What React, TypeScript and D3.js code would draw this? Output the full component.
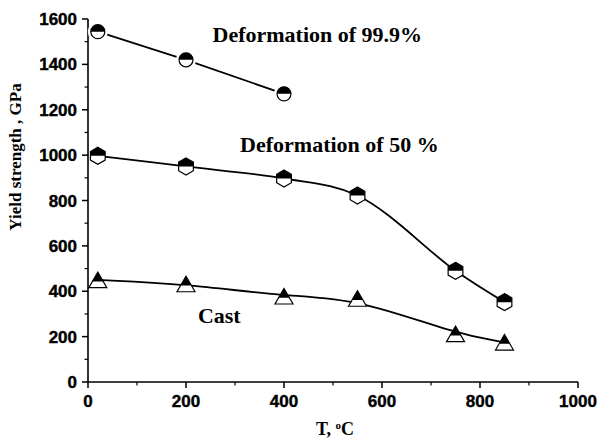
import React from 'react';
import * as d3 from 'd3';

const temps999 = [20, 200, 400];
const ys999 = [1544, 1420, 1270];

const temps50 = [20, 200, 400, 550, 750, 850];
const ys50 = [997, 950, 897, 822, 490, 352];

const tempsCast = [20, 200, 400, 550, 750, 850];
const ysCast = [450, 432, 378, 368, 212, 175];

const xTicks = [0, 200, 400, 600, 800, 1000];
const xMinor = [100, 300, 500, 700, 900];
const yTicks = [0, 200, 400, 600, 800, 1000, 1200, 1400, 1600];
const yMinor = [100, 300, 500, 700, 900, 1100, 1300, 1500];

const W = 597;
const H = 439;
const margin = { left: 88, right: 19, top: 19, bottom: 57 };

const x = d3.scaleLinear().domain([0, 1000]).range([margin.left, W - margin.right]);
const y = d3.scaleLinear().domain([0, 1600]).range([H - margin.bottom, margin.top]);

const tickFont = 'Arial, "Liberation Sans", sans-serif';
const serif = '"Times New Roman", "Liberation Serif", serif';

type Pt = [number, number];
const zip = (xs: number[], ys: number[]): Pt[] => xs.map((v, i) => [v, ys[i]]);

const HalfCircle = ({ cx, cy, r }: { cx: number; cy: number; r: number }) => (
  <g>
    <circle cx={cx} cy={cy} r={r + 3} fill="#fff" />
    <circle cx={cx} cy={cy} r={r} fill="#fff" stroke="#000" strokeWidth={1.2} />
    <path d={`M${cx - r},${cy} A${r},${r} 0 0 1 ${cx + r},${cy} Z`} fill="#000" />
  </g>
);

const HalfHex = ({ cx, cy, r }: { cx: number; cy: number; r: number }) => {
  const pts = d3.range(6).map(i => {
    const a = -Math.PI / 2 + (i * Math.PI) / 3;
    return [cx + r * Math.cos(a), cy + r * Math.sin(a)];
  });
  const w = r * Math.cos(Math.PI / 6);
  const top = `M${cx - w},${cy} L${cx - w},${cy - r / 2} L${cx},${cy - r} L${cx + w},${cy - r / 2} L${cx + w},${cy} Z`;
  return (
    <g>
      <polygon points={pts.map(p => p.join(',')).join(' ')} fill="#fff" stroke="#000" strokeWidth={1.2} />
      <path d={top} fill="#000" />
    </g>
  );
};

const HalfTri = ({ cx, cy, s }: { cx: number; cy: number; s: number }) => {
  const h = s * 0.86;
  const topY = cy - h / 2;
  const botY = cy + h / 2;
  const midY = cy + h * 0.1;
  const frac = (midY - topY) / h;
  return (
    <g>
      <polygon points={`${cx},${topY} ${cx + s / 2},${botY} ${cx - s / 2},${botY}`} fill="#fff" stroke="#000" strokeWidth={1.2} />
      <polygon points={`${cx},${topY} ${cx + (s / 2) * frac},${midY} ${cx - (s / 2) * frac},${midY}`} fill="#000" />
    </g>
  );
};

export default function App() {
  const d999 = zip(temps999, ys999);
  const d50 = zip(temps50, ys50);
  const dCast = zip(tempsCast, ysCast);

  const lineStraight = d3.line<Pt>().x(d => x(d[0])).y(d => y(d[1]));
  const line50 = d3.line<Pt>().x(d => x(d[0])).y(d => y(d[1])).curve(d3.curveCatmullRom.alpha(0.5));
  const lineCast = d3.line<Pt>().x(d => x(d[0])).y(d => y(d[1])).curve(d3.curveBasis);

  const x0 = x(0);
  const y0 = y(0);

  return (
    <svg width={W} height={H} style={{ position: 'absolute', left: 0, top: 0, background: '#fff' }}>
      {/* axes */}
      <line x1={x0} x2={x(1000)} y1={y0} y2={y0} stroke="#000" strokeWidth={1.6} />
      <line x1={x0} x2={x0} y1={y0} y2={y(1600)} stroke="#000" strokeWidth={1.6} />
      {xTicks.map(t => (
        <g key={'xt' + t}>
          <line x1={x(t)} x2={x(t)} y1={y0} y2={y0 + 6} stroke="#000" strokeWidth={1.5} />
          <text x={x(t)} y={y0 + 25} textAnchor="middle" fontFamily={tickFont} fontWeight="bold" fontSize={17} stroke="#000" strokeWidth={0.4}>{t}</text>
        </g>
      ))}
      {xMinor.map(t => (
        <line key={'xm' + t} x1={x(t)} x2={x(t)} y1={y0} y2={y0 + 3.5} stroke="#000" strokeWidth={1.2} />
      ))}
      {yTicks.map(t => (
        <g key={'yt' + t}>
          <line x1={x0 - 6} x2={x0} y1={y(t)} y2={y(t)} stroke="#000" strokeWidth={1.5} />
          <text x={x0 - 11} y={y(t) + 6} textAnchor="end" fontFamily={tickFont} fontWeight="bold" fontSize={17} stroke="#000" strokeWidth={0.4}>{t}</text>
        </g>
      ))}
      {yMinor.map(t => (
        <line key={'ym' + t} x1={x0 - 3.5} x2={x0} y1={y(t)} y2={y(t)} stroke="#000" strokeWidth={1.2} />
      ))}

      {/* axis titles */}
      <text x={335} y={435} textAnchor="middle" fontFamily={serif} fontWeight="bold" fontSize={18}>
        T, <tspan dy={-6} fontSize={11}>o</tspan><tspan dy={6}>C</tspan>
      </text>
      <text transform={`translate(21,157) rotate(-90)`} textAnchor="middle" fontFamily={serif} fontWeight="bold" fontSize={17}>
        Yield strength , GPa
      </text>

      {/* lines */}
      <path d={lineStraight(d999) ?? ''} fill="none" stroke="#000" strokeWidth={1.8} />
      <path d={line50(d50) ?? ''} fill="none" stroke="#000" strokeWidth={1.8} />
      <path d={lineCast(dCast) ?? ''} fill="none" stroke="#000" strokeWidth={1.8} />

      {/* markers */}
      {d999.map((d, i) => <HalfCircle key={'c' + i} cx={x(d[0])} cy={y(d[1])} r={7} />)}
      {d50.map((d, i) => <HalfHex key={'h' + i} cx={x(d[0])} cy={y(d[1])} r={8.5} />)}
      {dCast.map((d, i) => <HalfTri key={'t' + i} cx={x(d[0])} cy={y(d[1])} s={18} />)}

      {/* annotations */}
      <text x={x(468)} y={y(1500)} textAnchor="middle" fontFamily={serif} fontWeight="bold" fontSize={22}>Deformation of 99.9%</text>
      <text x={x(513)} y={y(1013)} textAnchor="middle" fontFamily={serif} fontWeight="bold" fontSize={22}>Deformation of 50 %</text>
      <text x={x(268)} y={y(260)} textAnchor="middle" fontFamily={serif} fontWeight="bold" fontSize={22}>Cast</text>
    </svg>
  );
}
